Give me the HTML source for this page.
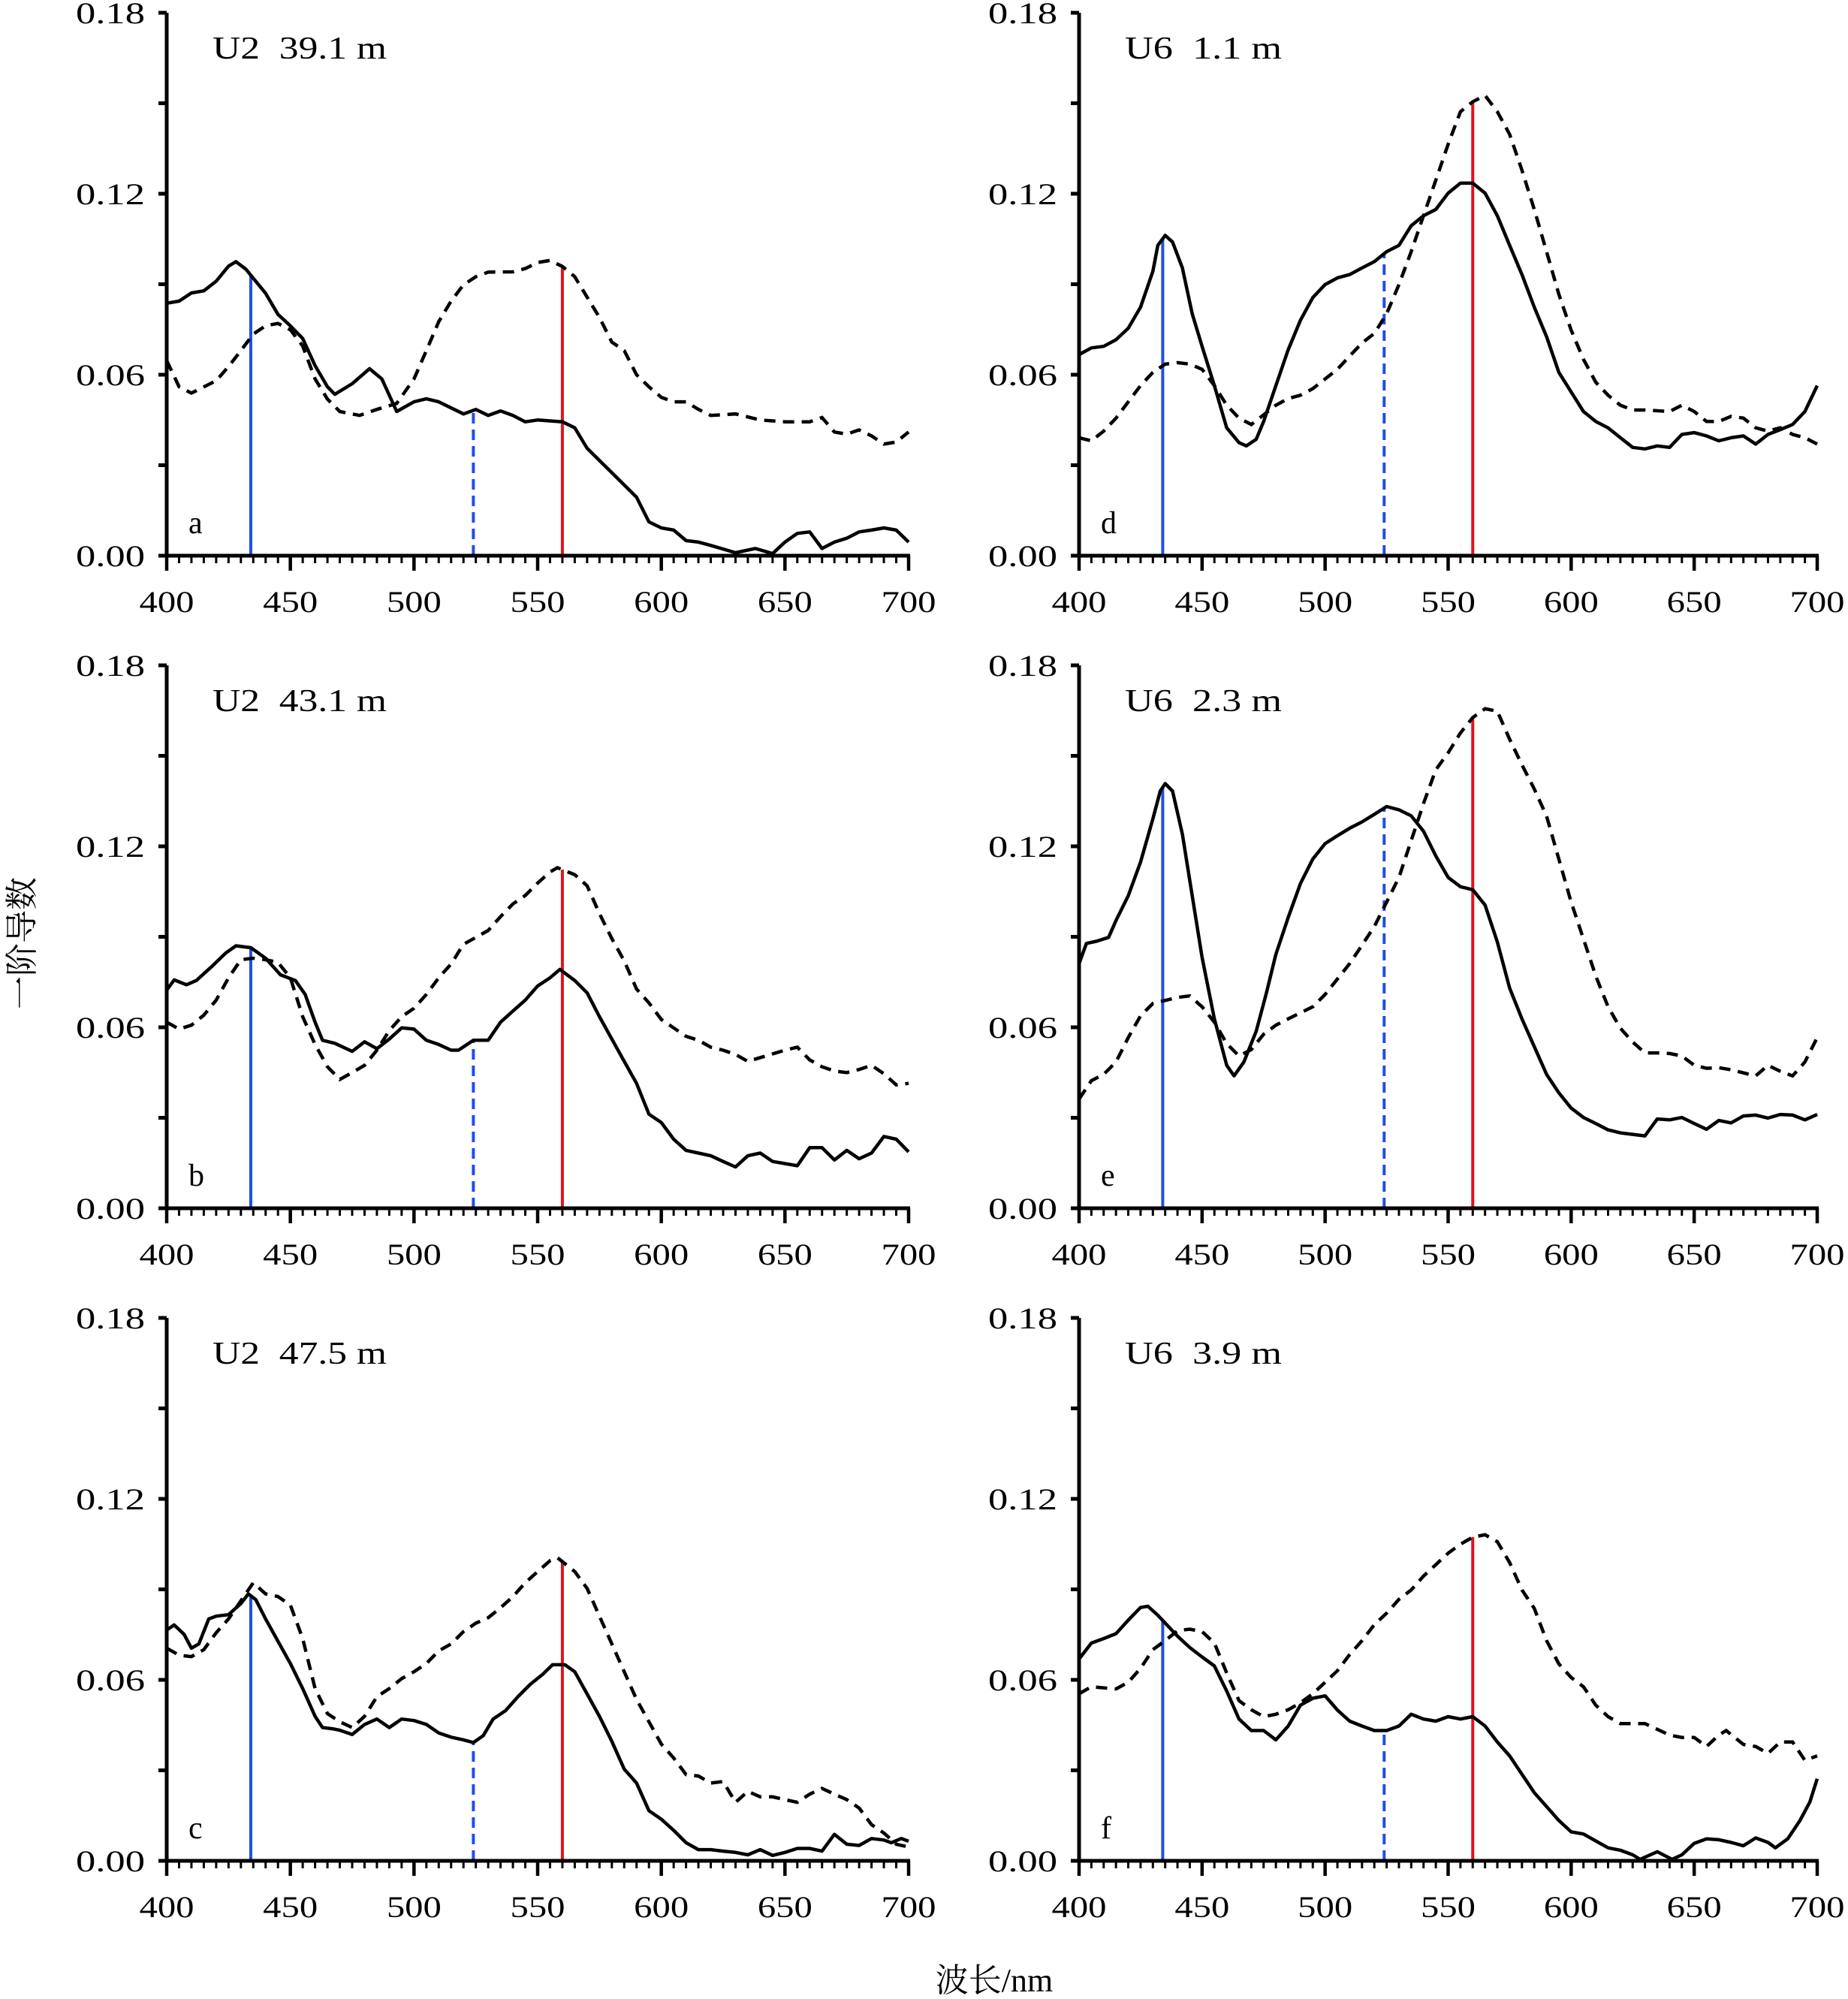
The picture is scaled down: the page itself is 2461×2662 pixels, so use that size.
<!DOCTYPE html>
<html><head><meta charset="utf-8"><style>
html,body{margin:0;padding:0;background:#fff;}
svg{display:block;}
text{font-family:"Liberation Serif","Noto Serif CJK SC",serif;fill:#000;}
</style></head><body>
<svg id="chart" width="2461" height="2662" viewBox="0 0 2461 2662" xmlns="http://www.w3.org/2000/svg">
<text x="0" y="0" font-size="44" text-anchor="middle" transform="translate(44,1256) rotate(-90)" font-family="Noto Serif CJK SC, serif">一阶导数</text>
<text x="1324" y="2652" font-size="44" text-anchor="middle">波长/nm</text>
</svg>
<script>
const xTicks=[400,450,500,550,600,650,700];
const yTicks=[0,0.06,0.12,0.18];
const yTickLabels=["0.00","0.06","0.12","0.18"];
const titles=["U2  39.1 m","U2  43.1 m","U2  47.5 m","U6  1.1 m","U6  2.3 m","U6  3.9 m"];
const letters=["a","b","c","d","e","f"];
const markBlue=434, markBlueDash=524, markRed=560;

const aSolidX=[400,405,410,415,420,425,428,432,440,445,450,455,460,465,468,475,482,487,493,500,505,510,515,520,525,530,535,540,545,550,560,565,570,580,590,595,600,605,610,615,620,630,638,645,650,655,660,665,670,675,680,685,690,695,700];
const aSolidY=[0.0837,0.0844,0.0871,0.0878,0.091,0.096,0.0975,0.095,0.087,0.080,0.0762,0.072,0.063,0.056,0.0535,0.057,0.062,0.0586,0.0478,0.051,0.052,0.051,0.049,0.047,0.0485,0.0465,0.048,0.0465,0.0444,0.045,0.0444,0.0424,0.0356,0.0275,0.0194,0.0112,0.0092,0.0085,0.005,0.0045,0.0034,0.001,0.0024,0.0007,0.0045,0.0074,0.0079,0.0024,0.0045,0.0058,0.0079,0.0085,0.0092,0.0085,0.0045];
const aDashX=[400,405,410,420,425,430,435,440,445,450,455,460,465,470,478,485,493,500,505,510,515,520,525,530,540,545,550,555,560,565,570,575,580,585,590,595,600,605,610,615,620,630,640,650,660,665,670,675,680,685,690,695,700];
const aDashY=[0.0647,0.056,0.0539,0.058,0.0627,0.068,0.0735,0.0762,0.077,0.0749,0.0695,0.0586,0.0519,0.0478,0.0465,0.0485,0.0505,0.0586,0.068,0.0776,0.0844,0.0898,0.0925,0.094,0.0941,0.0952,0.0972,0.0979,0.0959,0.0925,0.0857,0.079,0.0708,0.068,0.06,0.056,0.0525,0.051,0.051,0.0485,0.0465,0.047,0.045,0.0444,0.0444,0.0458,0.041,0.0403,0.0417,0.0397,0.037,0.0377,0.041];

const bSolidX=[400,403,408,412,418,424,428,434,440,446,452,456,460,463,468,475,480,485,490,495,500,505,510,515,518,524,530,535,540,545,550,555,559,565,570,575,580,585,590,595,600,605,610,615,620,625,630,635,640,645,655,660,665,670,675,680,685,690,695,700];
const bSolidY=[0.0723,0.0757,0.0741,0.0755,0.080,0.0847,0.087,0.0864,0.0829,0.0774,0.0755,0.0709,0.0617,0.0557,0.0547,0.052,0.0552,0.0529,0.0561,0.0598,0.0594,0.0557,0.0543,0.0524,0.0524,0.0557,0.0557,0.0617,0.0654,0.069,0.0737,0.0764,0.0792,0.0755,0.0714,0.0635,0.0561,0.0487,0.0414,0.0312,0.0284,0.0229,0.0192,0.0183,0.0174,0.0155,0.0137,0.0174,0.0183,0.0155,0.0141,0.0201,0.0201,0.016,0.0192,0.0164,0.0183,0.0238,0.0229,0.0187];
const bDashX=[400,405,410,415,420,425,430,435,440,445,450,455,460,465,470,475,480,485,490,495,500,505,510,515,520,525,530,535,540,545,550,555,558,565,570,575,580,585,590,595,600,605,610,615,620,625,630,635,650,655,660,665,670,675,680,685,690,695,700];
const bDashY=[0.0617,0.0594,0.0607,0.064,0.069,0.0764,0.0824,0.0829,0.0824,0.0815,0.0764,0.0635,0.0543,0.0469,0.0427,0.045,0.0474,0.0524,0.0589,0.0635,0.0663,0.0709,0.0764,0.081,0.0875,0.0898,0.0921,0.0967,0.1009,0.1037,0.1078,0.1115,0.1129,0.1106,0.1069,0.0977,0.0894,0.082,0.0727,0.0681,0.0626,0.0598,0.057,0.0557,0.0534,0.0524,0.051,0.0487,0.0524,0.0534,0.0492,0.0469,0.0455,0.045,0.046,0.0474,0.0446,0.0409,0.0414];

const cSolidX=[400,403,407,410,413,417,420,425,430,433,436,440,445,450,455,460,463,467,470,475,480,485,490,495,500,505,510,515,520,524,528,532,537,542,547,552,556,561,565,570,575,580,585,590,595,600,605,610,615,620,625,630,635,640,645,650,655,660,665,670,675,680,685,690,693,697,700];
const cSolidY=[0.0765,0.0782,0.0751,0.0705,0.0719,0.0802,0.0811,0.0816,0.0853,0.0885,0.0866,0.0802,0.0728,0.0654,0.0571,0.0479,0.0442,0.0438,0.0433,0.0419,0.0452,0.047,0.0442,0.047,0.0465,0.0452,0.0424,0.041,0.0401,0.0392,0.0415,0.047,0.0498,0.0544,0.0585,0.0618,0.065,0.065,0.0627,0.0553,0.0479,0.0396,0.0304,0.0258,0.0166,0.0138,0.0101,0.006,0.0037,0.0037,0.0032,0.0028,0.002,0.0037,0.0018,0.0028,0.0041,0.0041,0.0032,0.0088,0.0055,0.0051,0.0074,0.0069,0.006,0.0074,0.0065];
const cDashX=[400,405,410,415,420,425,430,435,440,445,450,455,460,465,470,475,480,485,490,495,500,505,510,515,520,525,530,535,540,545,550,555,558,565,570,575,580,585,590,595,600,605,610,615,620,625,630,635,640,645,650,655,660,665,670,675,680,685,690,695,700];
const cDashY=[0.0705,0.0682,0.0677,0.07,0.0756,0.0802,0.0862,0.0922,0.0885,0.0876,0.0848,0.0737,0.0571,0.0488,0.0461,0.0442,0.0479,0.0544,0.0571,0.0604,0.0627,0.0654,0.0696,0.0719,0.076,0.0788,0.0806,0.0839,0.0876,0.0922,0.0959,0.0995,0.1005,0.0959,0.0903,0.0811,0.0719,0.0627,0.0535,0.0461,0.0387,0.0341,0.0286,0.0281,0.0258,0.0263,0.0194,0.023,0.0212,0.0212,0.0203,0.0194,0.0221,0.024,0.0221,0.0203,0.0175,0.012,0.0092,0.0055,0.0046];

const dSolidX=[400,405,410,415,420,425,430,432,435,438,442,446,450,455,460,465,468,472,475,480,485,490,495,500,505,510,515,520,525,530,535,540,545,550,555,560,565,570,575,580,585,590,595,600,605,610,615,620,625,630,635,640,645,650,655,660,665,670,675,680,685,690,695,700];
const dSolidY=[0.0667,0.0689,0.0694,0.0716,0.0754,0.0824,0.0943,0.1029,0.1062,0.104,0.0954,0.0802,0.0694,0.0564,0.0424,0.0375,0.0364,0.0386,0.0445,0.0564,0.0683,0.0781,0.0856,0.0899,0.0921,0.0932,0.0954,0.0975,0.1008,0.1029,0.1094,0.1127,0.1148,0.1202,0.1235,0.1235,0.1202,0.1127,0.1029,0.0932,0.0824,0.0726,0.0608,0.0543,0.0478,0.0445,0.0424,0.0391,0.0359,0.0354,0.0364,0.0359,0.0402,0.0408,0.0397,0.0381,0.0391,0.0397,0.037,0.0402,0.0418,0.0435,0.0478,0.0564];
const dDashX=[400,405,410,415,420,425,430,435,440,445,450,455,460,465,470,475,480,485,490,495,500,505,510,515,520,525,530,535,540,545,550,555,560,565,570,575,580,585,590,595,600,605,610,615,620,625,630,640,645,650,655,660,665,670,675,680,685,690,695,700];
const dDashY=[0.0391,0.0381,0.0413,0.0456,0.051,0.0564,0.0608,0.0635,0.064,0.0635,0.0618,0.0564,0.0499,0.0456,0.0435,0.0467,0.0499,0.0521,0.0532,0.0554,0.0586,0.0618,0.0662,0.0705,0.0737,0.0802,0.0899,0.1008,0.1127,0.1245,0.1364,0.1472,0.1505,0.1526,0.1472,0.1397,0.1278,0.1148,0.1008,0.0867,0.0748,0.0651,0.0575,0.0532,0.0499,0.0483,0.0483,0.0478,0.0499,0.0478,0.0445,0.0445,0.0462,0.0456,0.0424,0.0413,0.0424,0.0402,0.0391,0.037];

const eSolidX=[400,403,407,412,415,420,425,430,433,435,438,442,446,450,455,460,463,467,472,476,480,485,490,495,500,505,510,515,520,525,530,535,540,545,550,555,560,565,570,575,580,585,590,595,600,605,610,615,620,625,630,635,640,645,650,655,660,665,670,675,680,685,690,695,700];
const eSolidY=[0.0811,0.0878,0.0885,0.0898,0.0954,0.1036,0.1148,0.1291,0.1383,0.1408,0.1383,0.124,0.1036,0.0832,0.0628,0.0474,0.0439,0.0485,0.0587,0.0709,0.0842,0.0964,0.1077,0.1158,0.1209,0.1235,0.126,0.1281,0.1306,0.1332,0.1321,0.1301,0.125,0.1168,0.1097,0.1066,0.1056,0.1005,0.0883,0.073,0.0628,0.0536,0.0444,0.0383,0.0332,0.0301,0.0281,0.026,0.025,0.0245,0.024,0.0296,0.0293,0.0301,0.0281,0.0262,0.0291,0.0283,0.0306,0.0309,0.0299,0.0311,0.0309,0.0293,0.0311];
const eDashX=[400,405,410,415,420,425,430,435,440,445,450,455,460,465,470,475,480,485,490,495,500,505,510,515,520,525,530,535,540,545,550,555,560,565,570,575,580,585,590,595,600,605,610,615,620,625,630,635,640,645,650,655,660,665,670,675,680,685,690,695,700];
const eDashY=[0.0362,0.0423,0.0444,0.0485,0.0566,0.0638,0.0679,0.0689,0.0699,0.0704,0.0668,0.0617,0.0546,0.0505,0.0526,0.0577,0.0607,0.0628,0.0648,0.0668,0.0709,0.076,0.0811,0.0872,0.0934,0.1015,0.1097,0.1219,0.1342,0.1454,0.151,0.1576,0.1627,0.1656,0.1648,0.1555,0.147,0.139,0.130,0.1158,0.1015,0.0893,0.077,0.0668,0.0597,0.0551,0.0515,0.0515,0.0513,0.0505,0.0474,0.0464,0.0466,0.0459,0.0449,0.0439,0.0474,0.0454,0.0439,0.0485,0.0566];

const fSolidX=[400,405,410,415,420,425,428,432,440,445,450,455,460,465,470,475,480,485,490,495,500,505,510,515,520,525,530,535,540,545,550,555,560,565,570,575,580,585,590,595,600,605,610,615,620,625,628,635,641,645,650,655,660,665,670,675,680,683,688,693,697,700];
const fSolidY=[0.0669,0.0722,0.0737,0.0753,0.0798,0.084,0.0844,0.0814,0.0745,0.0707,0.0676,0.0646,0.0563,0.047,0.0432,0.0432,0.0401,0.0447,0.0516,0.0539,0.0547,0.05,0.0463,0.0447,0.0432,0.0432,0.0447,0.0486,0.047,0.0463,0.0478,0.047,0.0478,0.0447,0.0394,0.0348,0.0287,0.0226,0.018,0.0134,0.0096,0.0089,0.0066,0.0043,0.0035,0.002,0.0005,0.003,0.0005,0.002,0.0058,0.0073,0.007,0.0061,0.005,0.0076,0.0061,0.0043,0.0073,0.0134,0.0195,0.0272];
const fDashX=[400,405,415,420,425,430,435,440,445,450,455,460,465,470,475,480,485,490,495,500,505,510,515,520,525,530,535,540,545,550,555,560,565,570,575,580,585,590,595,600,605,610,615,620,630,640,645,650,655,660,663,670,675,680,685,690,695,700];
const fDashY=[0.0554,0.0577,0.057,0.0592,0.0638,0.07,0.073,0.0763,0.0768,0.076,0.0722,0.0623,0.0531,0.0501,0.0478,0.0486,0.0501,0.0524,0.0554,0.0592,0.063,0.0684,0.073,0.0783,0.0821,0.0867,0.0898,0.0944,0.0982,0.102,0.105,0.1073,0.1081,0.1058,0.0989,0.0898,0.0837,0.073,0.0653,0.0608,0.0577,0.0516,0.0478,0.0455,0.0455,0.0417,0.0409,0.0409,0.0379,0.0417,0.0432,0.0386,0.0379,0.0356,0.0394,0.0394,0.0333,0.0348];

const panelData=[
 [aSolidX,aSolidY,aDashX,aDashY],[bSolidX,bSolidY,bDashX,bDashY],[cSolidX,cSolidY,cDashX,cDashY],
 [dSolidX,dSolidY,dDashX,dDashY],[eSolidX,eSolidY,eDashX,eDashY],[fSolidX,fSolidY,fDashX,fDashY]];

const NS="http://www.w3.org/2000/svg";
const svg=document.getElementById('chart');
function mk(tag,attrs,parent){const e=document.createElementNS(NS,tag);for(const k in attrs)e.setAttribute(k,attrs[k]);(parent||svg).appendChild(e);return e;}
function interp(xs,ys,x){for(let i=0;i<xs.length-1;i++){if(x>=xs[i]&&x<=xs[i+1]){const t=(x-xs[i])/(xs[i+1]-xs[i]);return ys[i]+t*(ys[i+1]-ys[i]);}}return ys[ys.length-1];}

const colX=[[222,1210],[1437,2420]];
const rowY=[[17,740],[886,1609],[1755,2478]];

for(let p=0;p<6;p++){
  const col=Math.floor(p/3), row=p%3;
  const [x0,x1]=colX[col]; const [yt,yb]=rowY[row];
  const sx=v=>x0+(v-400)/300*(x1-x0);
  const sy=v=>yb-(v/0.18)*(yb-yt);
  const g=mk('g',{});
  
  
  const [sX,sY,dX,dY]=panelData[p];
  const vb=mk('line',{x1:sx(markBlue),x2:sx(markBlue),y1:yb,y2:sy(interp(sX,sY,markBlue)),stroke:'#1f4fe6','stroke-width':4},g);
  
  
  const vbd=mk('line',{x1:sx(markBlueDash),x2:sx(markBlueDash),y1:yb,y2:sy(interp(sX,sY,markBlueDash)),stroke:'#1f4fe6','stroke-width':4,'stroke-dasharray':'14 8'},g);
  
  
  const vr=mk('line',{x1:sx(markRed),x2:sx(markRed),y1:yb,y2:sy(interp(dX,dY,markRed)),stroke:'#e0141c','stroke-width':4},g);
  
  
  const sp=mk('polyline',{points:sX.map((x,i)=>sx(x).toFixed(1)+','+sy(sY[i]).toFixed(1)).join(' '),fill:'none',stroke:'#000','stroke-width':4.5,'stroke-linejoin':'round'},g);
  
  
  const dp=mk('polyline',{points:dX.map((x,i)=>sx(x).toFixed(1)+','+sy(dY[i]).toFixed(1)).join(' '),fill:'none',stroke:'#000','stroke-width':4.5,'stroke-dasharray':'15 10'},g);
  
  
  const ya=mk('line',{x1:x0,x2:x0,y1:yt,y2:yb+2,stroke:'#000','stroke-width':5},g);
  
  
  const xa=mk('line',{x1:x0-2,x2:x1+2,y1:yb,y2:yb,stroke:'#000','stroke-width':5},g);
  
  
  for(let v=0;v<=0.1801;v+=0.03){
    const t=mk('line',{x1:x0-11,x2:x0,y1:sy(v),y2:sy(v),stroke:'#000','stroke-width':5},g);
    
    
  }
  for(let w=400;w<=700;w+=5){
    const major=(w%50===0);
    const t=mk('line',{x1:sx(w),x2:sx(w),y1:yb,y2:yb+(major?20:10),stroke:'#000','stroke-width':major?4.5:3},g);
    
    
  }
  yTicks.forEach((v,i)=>{
    const t=mk('text',{x:x0-29,y:sy(v)+14,'font-size':40,'text-anchor':'end',textLength:92,lengthAdjust:'spacingAndGlyphs'},g);
    t.textContent=yTickLabels[i];
    
    
  });
  xTicks.forEach(v=>{
    const t=mk('text',{x:sx(v),y:yb+75,'font-size':40,'text-anchor':'middle',textLength:73,lengthAdjust:'spacingAndGlyphs'},g);
    t.textContent=String(v);
    
    
  });
  const tt=mk('text',{x:x0+61,y:yt+61,'font-size':42,'xml:space':'preserve',textLength:(titles[p].length*23.2).toFixed(0),lengthAdjust:'spacingAndGlyphs'},g);
  tt.setAttributeNS('http://www.w3.org/XML/1998/namespace','xml:space','preserve');
  tt.style.whiteSpace='pre';
  tt.textContent=titles[p];
  
  
  const lt=mk('text',{x:x0+29,y:yb-30,'font-size':42},g);
  lt.textContent=letters[p];
  
  
}
</script>
</body></html>
